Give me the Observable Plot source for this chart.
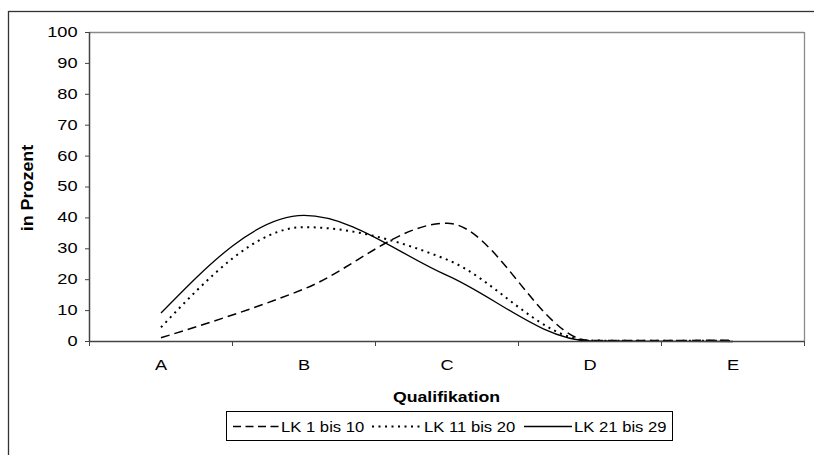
<!DOCTYPE html>
<html>
<head>
<meta charset="utf-8">
<script src="https://cdn.jsdelivr.net/npm/d3@7"></script>
<script src="https://cdn.jsdelivr.net/npm/@observablehq/plot@0.6"></script>
<style>
  html, body { margin: 0; padding: 0; background: #fff; }
  #chart svg { display: block; font-family: "Liberation Sans", Arial, sans-serif; }
</style>
</head>
<body>
<div id="chart"></div>
<script>
// ---- data ----
const categories = ["A", "B", "C", "D", "E"];
const seriesNames = ["LK 1 bis 10", "LK 11 bis 20", "LK 21 bis 29"];
const lk1to10  = [1.2, 17.0, 38.3, 0.3, 0.4];
const lk11to20 = [4.6, 37.0, 26.5, 0.3, 0.2];
const lk21to29 = [9.2, 40.8, 21.4, 0.2, 0.0];
const yTicks = [0, 10, 20, 30, 40, 50, 60, 70, 80, 90, 100];
const xTitle = "Qualifikation";
const yTitle = "in Prozent";

// ---- styles ----
const styles = [
  {dash: "9,5", legendDash: "8,4.5", width: 1.5},
  {dash: "2,4.5", legendDash: "2,4.5", width: 2},
  {dash: null, legendDash: null, width: 1.3}
];
const seriesValues = [lk1to10, lk11to20, lk21to29];

const rows = seriesValues.map((vals, s) =>
  vals.map((v, i) => ({series: seriesNames[s], idx: i + 0.5, value: v}))
);

const W = 814, H = 455;
const plot = Plot.plot({
  width: W,
  height: H,
  marginLeft: 89,
  marginRight: 10,
  marginTop: 32,
  marginBottom: 114,
  style: {fontFamily: "Liberation Sans, Arial, sans-serif", fontSize: "14px", color: "black", background: "white"},
  x: {type: "linear", domain: [0, categories.length]},
  y: {type: "linear", domain: [0, 100]},
  marks: [
    Plot.ruleY([100], {stroke: "#8a8a8a", strokeWidth: 1.3}),
    Plot.ruleX([categories.length], {stroke: "#8a8a8a", strokeWidth: 1.3}),
    ...rows.map((r, s) => Plot.line(r, {
      x: "idx", y: "value", stroke: "black",
      strokeWidth: styles[s].width,
      strokeDasharray: styles[s].dash,
      strokeLinecap: "butt",
      curve: "monotone-x"
    })),
    Plot.axisY({ticks: yTicks, tickSize: 4, tickPadding: 8, label: null, stroke: "#444", fontSize: 14}),
    Plot.axisX({ticks: d3.range(categories.length + 1), tickSize: 5, tickFormat: () => "", label: null, stroke: "#444"}),
    Plot.axisX({ticks: categories.map((c, i) => i + 0.5), tickSize: 0, tickPadding: 19,
      tickFormat: d => categories[Math.floor(d)], label: null, fontSize: 14}),
    Plot.ruleY([0], {stroke: "#444", strokeWidth: 1.5}),
    Plot.ruleX([0], {stroke: "#444", strokeWidth: 1.5})
  ]
});
document.getElementById("chart").appendChild(plot);

const svg = d3.select(plot);

// stretch text horizontally (reference text is wide)
function stretch(nodes, k) {
  nodes.each(function () {
    const t = this.getAttribute("transform");
    if (t) this.setAttribute("transform", t + ` scale(${k},1)`);
  });
}
stretch(svg.selectAll('g[aria-label="y-axis tick label"] text'), 1.3);
stretch(svg.selectAll('g[aria-label="x-axis tick label"] text'), 1.3);

// outer border (top + left visible)
svg.append("rect")
  .attr("x", 8.5).attr("y", 11.5)
  .attr("width", 900).attr("height", 600)
  .attr("fill", "none").attr("stroke", "#333").attr("stroke-width", 1.3);

// axis titles
svg.append("text")
  .attr("transform", `translate(446.5,402) scale(1.22,1)`)
  .attr("text-anchor", "middle")
  .attr("font-weight", "bold").attr("font-size", 14.5)
  .attr("fill", "black")
  .text(xTitle);
svg.append("text")
  .attr("transform", `translate(33,188) rotate(-90) scale(1.12,1)`)
  .attr("text-anchor", "middle")
  .attr("font-weight", "bold").attr("font-size", 16)
  .attr("fill", "black")
  .text(yTitle);

// legend
const lg = svg.append("g");
lg.append("rect")
  .attr("x", 226.5).attr("y", 411.5).attr("width", 446).attr("height", 29)
  .attr("fill", "white").attr("stroke", "black").attr("stroke-width", 1);
const legendItems = [
  {x0: 233, x1: 280, tx: 281},
  {x0: 372, x1: 422, tx: 424},
  {x0: 524, x1: 572, tx: 574}
];
legendItems.forEach((it, s) => {
  lg.append("line")
    .attr("x1", it.x0).attr("x2", it.x1).attr("y1", 426.5).attr("y2", 426.5)
    .attr("stroke", "black").attr("stroke-width", styles[s].width)
    .attr("stroke-dasharray", styles[s].legendDash);
  lg.append("text")
    .attr("transform", `translate(${it.tx},431.5) scale(1.19,1)`)
    .attr("text-anchor", "start")
    .attr("font-size", 14).attr("fill", "black")
    .text(seriesNames[s]);
});
</script>
</body>
</html>
